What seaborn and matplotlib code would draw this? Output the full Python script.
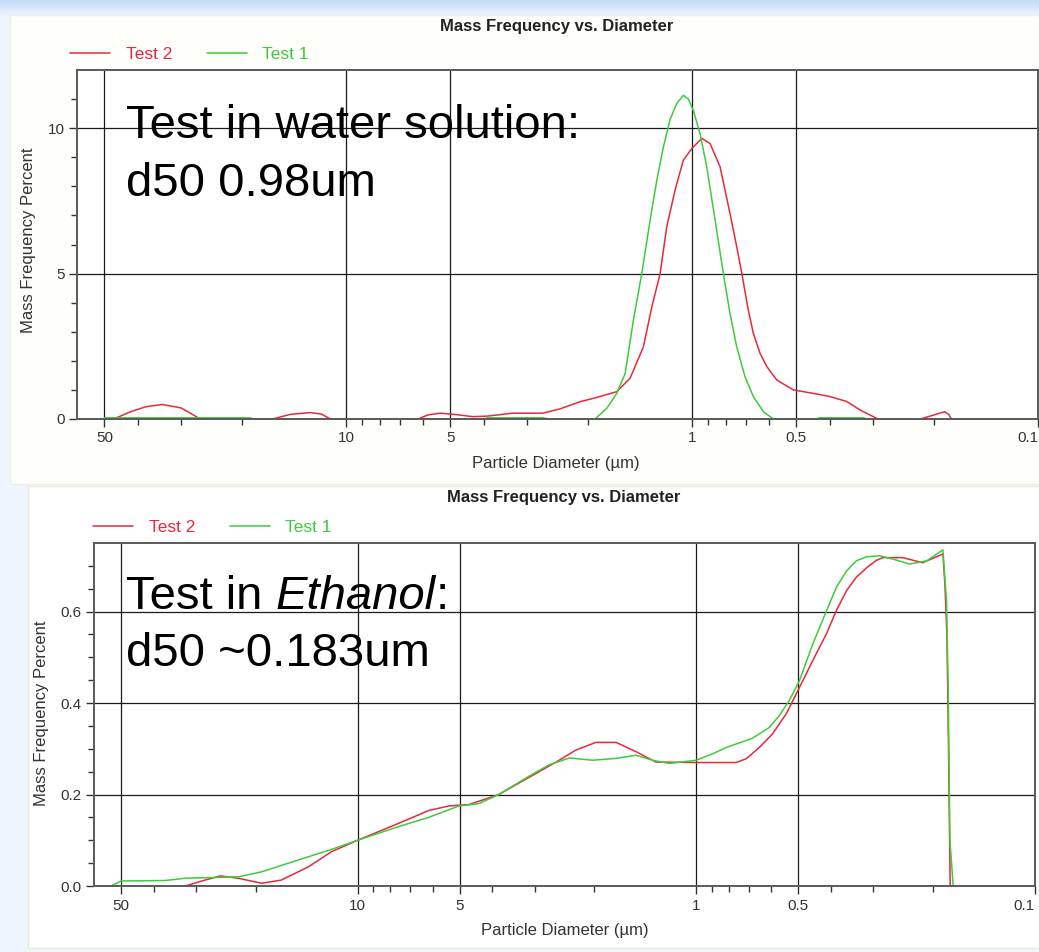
import matplotlib
matplotlib.use("Agg")
import numpy as np
import pandas as pd
import matplotlib.pyplot as plt
import seaborn as sns
from matplotlib.ticker import FixedLocator, FixedFormatter, NullFormatter
from matplotlib.patches import Rectangle

W, H = 1039, 952

# ---- particle size distributions (diameter in µm, mass frequency in %) ----
# water solution
water_test2_d = [50, 47, 42, 38, 34, 30, 26.4, 16.3, 14.5, 12.7, 11.8, 11.1,
                 6.2, 5.8, 5.35, 4.8, 4.3, 3.9, 3.3, 2.7, 2.407, 2.1, 1.929,
                 1.651, 1.511, 1.383, 1.307, 1.237, 1.184, 1.12, 1.06, 1.002,
                 0.937, 0.887, 0.83, 0.777, 0.743, 0.718, 0.688, 0.665, 0.636,
                 0.608, 0.569, 0.51, 0.446, 0.399, 0.357, 0.327, 0.29,
                 0.219, 0.205, 0.195, 0.186, 0.181, 0.178]
water_test2_v = [0, 0, 0.25, 0.42, 0.5, 0.38, 0, 0, 0.16, 0.22, 0.17, 0,
                 0, 0.14, 0.2, 0.15, 0.08, 0.1, 0.2, 0.2, 0.35, 0.6, 0.71,
                 0.94, 1.4, 2.48, 3.86, 5.0, 6.6, 7.87, 8.9, 9.3,
                 9.65, 9.47, 8.67, 7.07, 5.92, 5.0, 3.75, 2.94, 2.26,
                 1.8, 1.34, 1.0, 0.88, 0.77, 0.6, 0.31, 0,
                 0, 0.1, 0.18, 0.25, 0.15, 0]
water_test1_d = [50, 19, 18.5, 4.0, 3.9, 2.7, 2.6, 1.907, 1.764, 1.651, 1.561,
                 1.478, 1.398, 1.322, 1.265, 1.21, 1.158, 1.107, 1.06, 1.025,
                 0.991, 0.948, 0.907, 0.858, 0.812, 0.777, 0.743, 0.703, 0.665,
                 0.622, 0.582, 0.44, 0.427, 0.32, 0.31]
water_test1_v = [0.04, 0.04, 0, 0, 0.04, 0.04, 0, 0, 0.37, 0.88, 1.57,
                 3.4, 5.0, 6.84, 8.2, 9.36, 10.3, 10.85, 11.13, 11.0,
                 10.6, 9.8, 8.67, 6.84, 5.0, 3.63, 2.48, 1.45, 0.77,
                 0.25, 0, 0, 0.04, 0.04, 0]

# ethanol
ethanol_test2_d = [32.3, 28.2, 25.4, 22.5, 19.2, 16.8, 13.96, 11.94, 10, 7.56,
                   6.17, 5.38, 4.69, 3.83, 3.34, 2.91, 2.54, 2.27, 1.98, 1.725,
                   1.5, 1.316, 1.0, 0.762, 0.713, 0.651, 0.595, 0.542, 0.496,
                   0.453, 0.4125, 0.386, 0.36, 0.337, 0.314, 0.294, 0.2817,
                   0.246, 0.2145, 0.187, 0.1845, 0.182, 0.18, 0.178]
ethanol_test2_v = [0, 0.013, 0.022, 0.017, 0.006, 0.013, 0.042, 0.075, 0.10,
                   0.137, 0.165, 0.175, 0.178, 0.2, 0.225, 0.25, 0.275, 0.297,
                   0.314, 0.314, 0.293, 0.271, 0.27, 0.27, 0.278, 0.303, 0.333,
                   0.377, 0.434, 0.493, 0.552, 0.602, 0.646, 0.675, 0.696,
                   0.712, 0.718, 0.718, 0.707, 0.726, 0.66, 0.55, 0.3, 0]
ethanol_test1_d = [53.4, 49.9, 37, 32.3, 22.5, 19.2, 14.95, 11.94, 10, 7.56,
                   6.17, 5.02, 4.39, 3.83, 3.12, 2.72, 2.37, 2.026, 1.725,
                   1.505, 1.347, 1.202, 1.0, 0.895, 0.815, 0.683, 0.608, 0.568,
                   0.531, 0.496, 0.453, 0.4125, 0.386, 0.36, 0.337, 0.314,
                   0.2874, 0.263, 0.2344, 0.2088, 0.187, 0.1824, 0.1804,
                   0.1783, 0.1744]
ethanol_test1_v = [0, 0.011, 0.012, 0.017, 0.02, 0.031, 0.057, 0.08, 0.10,
                   0.13, 0.15, 0.175, 0.18, 0.2, 0.24, 0.265, 0.28, 0.275,
                   0.279, 0.286, 0.275, 0.268, 0.275, 0.289, 0.303, 0.323,
                   0.347, 0.373, 0.406, 0.449, 0.529, 0.602, 0.653, 0.689,
                   0.711, 0.72, 0.722, 0.715, 0.704, 0.711, 0.735, 0.62,
                   0.43, 0.10, 0]

series_names = ["Test 2", "Test 1"]
series_colors = {"Test 2": "#e8283c", "Test 1": "#3ccc3c"}

x_major = [50, 10, 5, 1, 0.5, 0.1]
x_major_labels = ["50", "10", "5", "1", "0.5", "0.1"]
x_minor = [40, 30, 20, 9, 8, 7, 6, 4, 3, 2, 0.9, 0.8, 0.7, 0.6, 0.4, 0.3, 0.2]

water_y_major = [0, 5, 10]
water_y_labels = ["0", "5", "10"]
water_y_minor = [1, 2, 3, 4, 6, 7, 8, 9, 11]
ethanol_y_major = [0.0, 0.2, 0.4, 0.6]
ethanol_y_labels = ["0.0", "0.2", "0.4", "0.6"]
ethanol_y_minor = [0.05, 0.1, 0.15, 0.25, 0.3, 0.35, 0.45, 0.5, 0.55, 0.65, 0.7]

title_text = "Mass Frequency vs. Diameter"
xlabel_text = "Particle Diameter (µm)"
ylabel_text = "Mass Frequency Percent"


def frame(d2, v2, d1, v1):
    a = pd.DataFrame({"diameter": d2, "percent": v2, "series": "Test 2"})
    b = pd.DataFrame({"diameter": d1, "percent": v1, "series": "Test 1"})
    return pd.concat([a, b], ignore_index=True)


water = frame(water_test2_d, water_test2_v, water_test1_d, water_test1_v)
ethanol = frame(ethanol_test2_d, ethanol_test2_v, ethanol_test1_d, ethanol_test1_v)

sns.set_theme(style="white")
plt.rcParams["font.family"] = ["Liberation Sans", "DejaVu Sans"]

fig = plt.figure(figsize=(W / 100, H / 100), dpi=100)
fig.patch.set_facecolor("#eef5fd")


def fx(px):
    return px / W


def fy(py):
    return 1 - py / H


# page background with a soft blue band along the top edge
bg = fig.add_axes([0, 0, 1, 1], zorder=-10)
bg.set_xlim(0, W)
bg.set_ylim(H, 0)
bg.axis("off")
band = np.linspace(0, 1, 64)[:, None]
top_c = np.array([0.76, 0.86, 0.97])
bot_c = np.array([0.93, 0.96, 0.995])
grad = top_c[None, None, :] * (1 - band[..., None]) + bot_c[None, None, :] * band[..., None]
bg.imshow(grad, extent=(0, W, 16, 0), aspect="auto")
bg.add_patch(Rectangle((10, 15), W - 10, 469, facecolor="#fefefb",
                       edgecolor="#efeee2", lw=1))
bg.add_patch(Rectangle((28, 486), W - 28, 462, facecolor="white",
                       edgecolor="#f0e8dc", lw=1))


def draw_panel(ax, data, ylim, ymaj, ylab, ymin):
    sns.lineplot(data=data, x="diameter", y="percent", hue="series",
                 hue_order=series_names, palette=series_colors,
                 estimator=None, linewidth=1.1, ax=ax, legend=True)
    handles, labels = ax.get_legend_handles_labels()
    ax.get_legend().remove()
    ax.set_xscale("log")
    ax.set_xlim(60, 0.1)
    ax.set_ylim(*ylim)
    ax.xaxis.set_major_locator(FixedLocator(x_major))
    ax.xaxis.set_major_formatter(FixedFormatter(x_major_labels))
    ax.xaxis.set_minor_locator(FixedLocator(x_minor))
    ax.xaxis.set_minor_formatter(NullFormatter())
    ax.yaxis.set_major_locator(FixedLocator(ymaj))
    ax.yaxis.set_major_formatter(FixedFormatter(ylab))
    ax.yaxis.set_minor_locator(FixedLocator(ymin))
    ax.set_xlabel("")
    ax.set_ylabel("")
    ax.grid(True, which="major", color="#1a1a1a", lw=0.9)
    ax.grid(False, which="minor")
    for s in ax.spines.values():
        s.set_color("#5a5a5a")
        s.set_linewidth(1.4)
    ax.tick_params(which="both", direction="out", bottom=True, left=True,
                   top=False, right=False, color="#333333", width=1.0)
    ax.tick_params(which="major", length=6, labelsize=11, labelcolor="#333333",
                   pad=3)
    ax.tick_params(which="minor", length=4)
    ax.set_facecolor("white")
    # keep the right-most label ("0.1") inside the page
    ax.xaxis.get_major_ticks()[-1].label1.set_horizontalalignment("right")
    return handles, labels


def legend_at(handles, labels, x, y):
    leg = fig.legend(handles, labels, loc="center left",
                     bbox_to_anchor=(fx(x), fy(y)), ncol=2, frameon=False,
                     fontsize=12.5, handlelength=2.3, handletextpad=0.9,
                     columnspacing=2.0, borderpad=0, borderaxespad=0)
    for t, name in zip(leg.get_texts(), labels):
        t.set_color(series_colors[name])


# ---- top panel: water ----
ax1 = fig.add_axes([fx(77), fy(419), fx(1038 - 77), (419 - 70) / H])
h, l = draw_panel(ax1, water, (0, 12), water_y_major, water_y_labels, water_y_minor)
legend_at(h, l, 70, 54)
fig.text(fx(557), fy(26), title_text, ha="center", va="center",
         fontsize=12, fontweight="bold", color="#222222")
fig.text(fx(556), fy(463), xlabel_text, ha="center", va="center",
         fontsize=12, color="#333333")
fig.text(fx(29), fy(240), ylabel_text, ha="center", va="center",
         rotation=90, fontsize=12, color="#333333")

# ---- bottom panel: ethanol ----
ax2 = fig.add_axes([fx(94), fy(886), fx(1035 - 94), (886 - 543) / H])
h, l = draw_panel(ax2, ethanol, (0, 0.75), ethanol_y_major, ethanol_y_labels,
                  ethanol_y_minor)
legend_at(h, l, 93, 527)
fig.text(fx(564), fy(497), title_text, ha="center", va="center",
         fontsize=12, fontweight="bold", color="#222222")
fig.text(fx(565), fy(930), xlabel_text, ha="center", va="center",
         fontsize=12, color="#333333")
fig.text(fx(42), fy(713), ylabel_text, ha="center", va="center",
         rotation=90, fontsize=12, color="#333333")

# ---- annotations ----
big = 34
fig.text(fx(126), fy(138), "Test in water solution:", fontsize=big,
         va="baseline", ha="left", color="black", zorder=5)
fig.text(fx(126), fy(196), "d50 0.98um", fontsize=big,
         va="baseline", ha="left", color="black", zorder=5)

renderer = fig.canvas.get_renderer()
t1 = fig.text(fx(126), fy(609), "Test in", fontsize=big, va="baseline",
              ha="left", color="black", zorder=5)
space_px = 0.278 * big * 100 / 72
x_end = t1.get_window_extent(renderer).x1 + space_px
t2 = fig.text(x_end / W, fy(609), "Ethanol", fontsize=big, style="italic",
              va="baseline", ha="left", color="black", zorder=5)
x_end = t2.get_window_extent(renderer).x1
fig.text(x_end / W, fy(609), ":", fontsize=big, va="baseline", ha="left",
         color="black", zorder=5)
fig.text(fx(126), fy(666), "d50 ~0.183um", fontsize=big,
         va="baseline", ha="left", color="black", zorder=5)

fig.savefig("out.png", dpi=100, facecolor=fig.get_facecolor())
